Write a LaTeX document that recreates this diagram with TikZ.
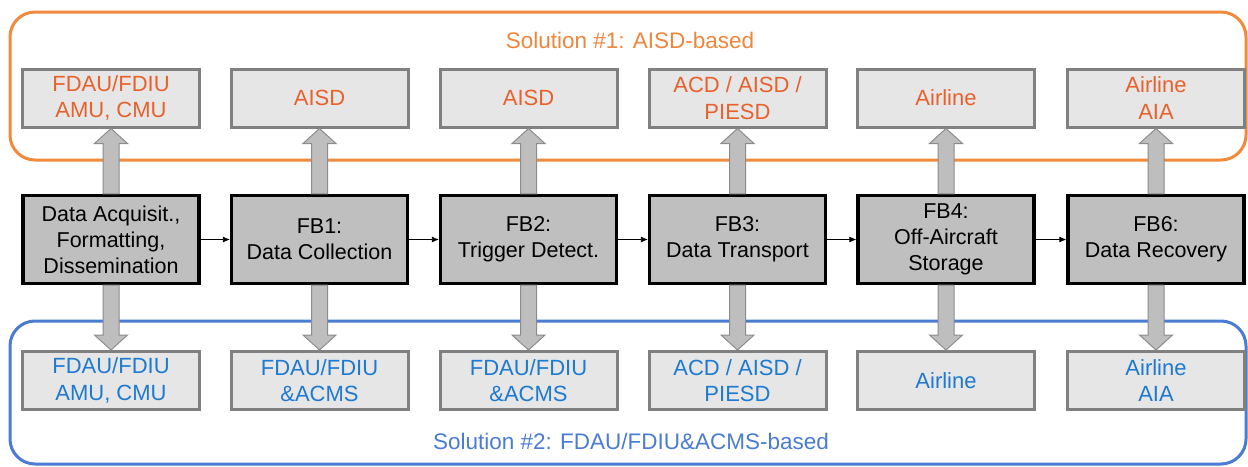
\documentclass[tikz,border=0pt]{standalone}
\usepackage{fontspec}
\setmainfont{Liberation Sans}
\usetikzlibrary{shapes.arrows,arrows.meta,calc}
\definecolor{orline}{HTML}{F28A3C}
\definecolor{ortext}{HTML}{E8612C}
\definecolor{orlab}{HTML}{F0853C}
\definecolor{blline}{HTML}{4A7CD4}
\definecolor{bltext}{HTML}{1D7AD0}
\definecolor{bllab}{HTML}{4A7CD4}
\definecolor{lightbox}{HTML}{E6E6E6}
\definecolor{lightedge}{HTML}{808080}
\definecolor{mainfill}{HTML}{BFBFBF}
\definecolor{arrfill}{HTML}{BEBEBE}
\definecolor{arredge}{HTML}{8C8C8C}
\tikzset{
  x=1pt, y=-1pt,
  solbox/.style={draw, line width=3pt, rounded corners=25pt},
  solbox label/.style={font=\fontsize{22.5}{26}\selectfont},
  sidebox/.style={draw=lightedge, fill=lightbox, line width=3pt, minimum width=177pt, minimum height=58pt, inner sep=0pt, align=center, font=\fontsize{22}{26.5}\selectfont},
  topbox/.style={sidebox, text=ortext},
  botbox/.style={sidebox, text=bltext},
  mainbox/.style={draw=black, fill=mainfill, line width=3.2pt, minimum width=176pt, minimum height=88pt, inner sep=0pt, align=center, font=\fontsize{21.5}{26}\selectfont},
  blockarrow/.style={draw=arredge, fill=arrfill, line width=1pt},
  flow/.style={-{Latex[length=7pt,width=6pt]}, line width=0.8pt}
}
\newcommand{\upar}[2]{% from (#1) north to (#2) south
  \path (#1.north) coordinate (ua) (#2.south) coordinate (ub);
  \draw[blockarrow] ($(ua)+(-8,0)$) -- ($(ub)+(-8,15)$) -- ($(ub)+(-16.5,15)$) -- (ub) -- ($(ub)+(16.5,15)$) -- ($(ub)+(8,15)$) -- ($(ua)+(8,0)$) -- cycle;}
\newcommand{\downar}[2]{%
  \path (#1.south) coordinate (ua) (#2.north) coordinate (ub);
  \draw[blockarrow] ($(ua)+(-8,0)$) -- ($(ub)+(-8,-15)$) -- ($(ub)+(-16.5,-15)$) -- (ub) -- ($(ub)+(16.5,-15)$) -- ($(ub)+(8,-15)$) -- ($(ua)+(8,0)$) -- cycle;}
\begin{document}
\begin{tikzpicture}
\useasboundingbox (0,0) rectangle (1248,466);
\fill[white] (0,0) rectangle (1248,466);
% solution frames
\draw[solbox, draw=orline] (10,12) rectangle (1246,160);
\draw[solbox, draw=blline] (10,321) rectangle (1246,464);
\node[solbox label, text=orlab] (sol1) at (630,40) {Solution \#1: AISD-based};
\node[solbox label, text=bllab] (sol2) at (631,441) {Solution \#2: FDAU/FDIU\&ACMS-based};
% main boxes
\node[mainbox] (m0) at (111,239.5) {Data Acquisit.,\\Formatting,\\Dissemination};
\node[mainbox] (m1) at (319.5,239.5) {FB1:\\Data Collection};
\node[mainbox] (m2) at (528.5,239.5) {FB2:\\Trigger Detect.};
\node[mainbox] (m3) at (737.5,239.5) {FB3:\\Data Transport};
\node[mainbox] (m4) at (946,239.5) {FB4:\\Off-Aircraft\\Storage};
\node[mainbox] (m5) at (1156,239.5) {FB6:\\Data Recovery};
% top boxes
\node[topbox] (t0) at (111,98) {FDAU/FDIU\\AMU, CMU};
\node[topbox] (t1) at (319.5,98) {AISD};
\node[topbox] (t2) at (528.5,98) {AISD};
\node[topbox] (t3) at (737.5,98) {ACD / AISD /\\PIESD};
\node[topbox] (t4) at (946,98) {Airline};
\node[topbox] (t5) at (1156,98) {Airline\\AIA};
% bottom boxes
\node[botbox] (b0) at (111,380.5) {FDAU/FDIU\\AMU, CMU};
\node[botbox] (b1) at (319.5,380.5) {FDAU/FDIU\\\&ACMS};
\node[botbox] (b2) at (528.5,380.5) {FDAU/FDIU\\\&ACMS};
\node[botbox] (b3) at (737.5,380.5) {ACD / AISD /\\PIESD};
\node[botbox] (b4) at (946,380.5) {Airline};
\node[botbox] (b5) at (1156,380.5) {Airline\\AIA};
% block arrows
\foreach \i in {0,...,5}{\upar{m\i}{t\i}\downar{m\i}{b\i}}
% flow arrows
\foreach \a/\b in {0/1,1/2,2/3,3/4,4/5}{\draw[flow] (m\a.east) -- (m\b.west);}
\end{tikzpicture}
\end{document}
